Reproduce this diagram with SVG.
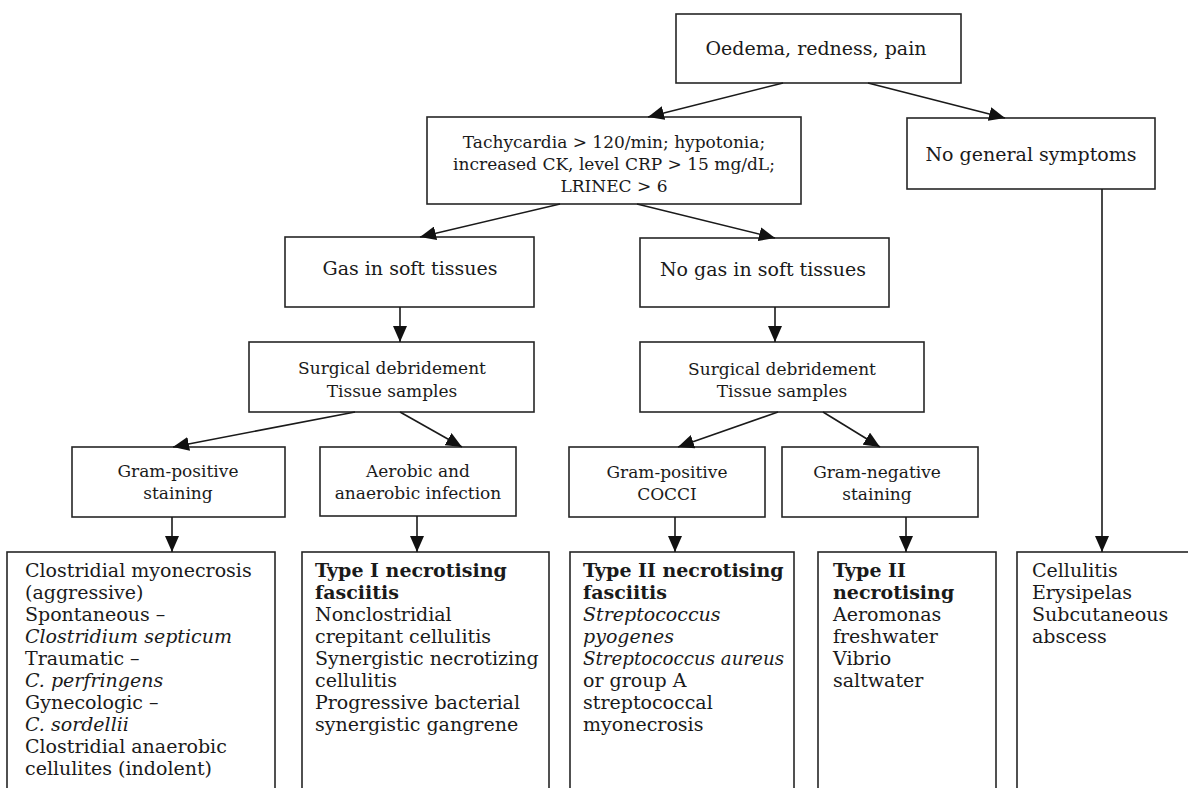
<svg xmlns="http://www.w3.org/2000/svg" width="1188" height="788" viewBox="0 0 1188 788">
<style>
  .box { fill: #ffffff; stroke: #262626; stroke-width: 1.6; }
  .t { font-family: "DejaVu Serif", "Liberation Serif", serif; fill: #1a1a1a; }
  .c { text-anchor: middle; }
  .l19 { font-size: 19px; }
  .l17 { font-size: 17px; }
  .b { font-weight: bold; }
  .i { font-style: italic; }
  .conn line { stroke: #1a1a1a; stroke-width: 1.6; marker-end: url(#ah); }
</style>
<defs>
  <marker id="ah" markerUnits="userSpaceOnUse" markerWidth="16" markerHeight="14" refX="16" refY="7" orient="auto">
    <path d="M0,0 L16,7 L0,14 z" fill="#111111"/>
  </marker>
</defs>
<rect x="0" y="0" width="1188" height="788" fill="#ffffff"/>

<g id="n-oedema">
  <rect class="box" x="676" y="14" width="285" height="69"/>
  <text class="t c l19" x="816" y="55">Oedema, redness, pain</text>
</g>
<g id="n-tachy">
  <rect class="box" x="427" y="117" width="374" height="87"/>
  <text class="t c l17" x="614" y="148">Tachycardia &gt; 120/min; hypotonia;</text>
  <text class="t c l17" x="614" y="170">increased CK, level CRP &gt; 15 mg/dL;</text>
  <text class="t c l17" x="614" y="192">LRINEC &gt; 6</text>
</g>
<g id="n-nogeneral">
  <rect class="box" x="907" y="118" width="248" height="71"/>
  <text class="t c l19" x="1031" y="161">No general symptoms</text>
</g>
<g id="n-gas">
  <rect class="box" x="285" y="237" width="249" height="70"/>
  <text class="t c l19" x="410" y="275">Gas in soft tissues</text>
</g>
<g id="n-nogas">
  <rect class="box" x="640" y="238" width="249" height="69"/>
  <text class="t c l19" x="763" y="276">No gas in soft tissues</text>
</g>
<g id="n-surg-left">
  <rect class="box" x="249" y="342" width="285" height="70"/>
  <text class="t c l17" x="392" y="374">Surgical debridement</text>
  <text class="t c l17" x="392" y="397">Tissue samples</text>
</g>
<g id="n-surg-right">
  <rect class="box" x="640" y="342" width="284" height="70"/>
  <text class="t c l17" x="782" y="375">Surgical debridement</text>
  <text class="t c l17" x="782" y="397">Tissue samples</text>
</g>
<g id="n-grampos-staining">
  <rect class="box" x="72" y="447" width="213" height="70"/>
  <text class="t c l17" x="178" y="477">Gram-positive</text>
  <text class="t c l17" x="178" y="499">staining</text>
</g>
<g id="n-aerobic">
  <rect class="box" x="320" y="447" width="196" height="69"/>
  <text class="t c l17" x="418" y="477">Aerobic and</text>
  <text class="t c l17" x="418" y="499">anaerobic infection</text>
</g>
<g id="n-grampos-cocci">
  <rect class="box" x="569" y="447" width="196" height="70"/>
  <text class="t c l17" x="667" y="478">Gram-positive</text>
  <text class="t c l17" x="667" y="500">COCCI</text>
</g>
<g id="n-gramneg">
  <rect class="box" x="782" y="447" width="196" height="70"/>
  <text class="t c l17" x="877" y="478">Gram-negative</text>
  <text class="t c l17" x="877" y="500">staining</text>
</g>

<g id="n-clostridial">
  <rect class="box" x="7" y="552" width="268" height="250"/>
  <text class="t l19" x="25" y="577">Clostridial myonecrosis</text>
  <text class="t l19" x="25" y="599">(aggressive)</text>
  <text class="t l19" x="25" y="621">Spontaneous –</text>
  <text class="t l19 i" x="25" y="643">Clostridium septicum</text>
  <text class="t l19" x="25" y="665">Traumatic –</text>
  <text class="t l19 i" x="25" y="687">C. perfringens</text>
  <text class="t l19" x="25" y="709">Gynecologic –</text>
  <text class="t l19 i" x="25" y="731">C. sordellii</text>
  <text class="t l19" x="25" y="753">Clostridial anaerobic</text>
  <text class="t l19" x="25" y="775">cellulites (indolent)</text>
</g>
<g id="n-type1">
  <rect class="box" x="302" y="552" width="247" height="250"/>
  <text class="t l19 b" x="315" y="577">Type I necrotising</text>
  <text class="t l19 b" x="315" y="599">fasciitis</text>
  <text class="t l19" x="315" y="621">Nonclostridial</text>
  <text class="t l19" x="315" y="643">crepitant cellulitis</text>
  <text class="t l19" x="315" y="665">Synergistic necrotizing</text>
  <text class="t l19" x="315" y="687">cellulitis</text>
  <text class="t l19" x="315" y="709">Progressive bacterial</text>
  <text class="t l19" x="315" y="731">synergistic gangrene</text>
</g>
<g id="n-type2-fasciitis">
  <rect class="box" x="570" y="552" width="224" height="250"/>
  <text class="t l19 b" x="583" y="577">Type II necrotising</text>
  <text class="t l19 b" x="583" y="599">fasciitis</text>
  <text class="t l19 i" x="583" y="621">Streptococcus</text>
  <text class="t l19 i" x="583" y="643">pyogenes</text>
  <text class="t l19 i" x="583" y="665" textLength="201" lengthAdjust="spacingAndGlyphs">Streptococcus aureus</text>
  <text class="t l19" x="583" y="687">or group A</text>
  <text class="t l19" x="583" y="709">streptococcal</text>
  <text class="t l19" x="583" y="731">myonecrosis</text>
</g>
<g id="n-type2-necrotising">
  <rect class="box" x="818" y="552" width="178" height="250"/>
  <text class="t l19 b" x="833" y="577">Type II</text>
  <text class="t l19 b" x="833" y="599">necrotising</text>
  <text class="t l19" x="833" y="621">Aeromonas</text>
  <text class="t l19" x="833" y="643">freshwater</text>
  <text class="t l19" x="833" y="665">Vibrio</text>
  <text class="t l19" x="833" y="687">saltwater</text>
</g>
<g id="n-cellulitis">
  <rect class="box" x="1017" y="552" width="190" height="250"/>
  <text class="t l19" x="1032" y="577">Cellulitis</text>
  <text class="t l19" x="1032" y="599">Erysipelas</text>
  <text class="t l19" x="1032" y="621">Subcutaneous</text>
  <text class="t l19" x="1032" y="643">abscess</text>
</g>

<g id="connectors" class="conn">
  <line x1="783" y1="83" x2="648" y2="117"/>
  <line x1="868" y1="83" x2="1005" y2="118"/>
  <line x1="560" y1="204" x2="420" y2="237"/>
  <line x1="637" y1="204" x2="775" y2="238"/>
  <line x1="400" y1="307" x2="400" y2="342"/>
  <line x1="775" y1="307" x2="775" y2="342"/>
  <line x1="355" y1="412" x2="173" y2="447"/>
  <line x1="400" y1="412" x2="462" y2="447"/>
  <line x1="778" y1="412" x2="678" y2="447"/>
  <line x1="823" y1="412" x2="880" y2="447"/>
  <line x1="172" y1="517" x2="172" y2="552"/>
  <line x1="417" y1="516" x2="417" y2="552"/>
  <line x1="675" y1="517" x2="675" y2="552"/>
  <line x1="906" y1="517" x2="906" y2="552"/>
  <line x1="1102" y1="189" x2="1102" y2="552"/>
</g>
</svg>
